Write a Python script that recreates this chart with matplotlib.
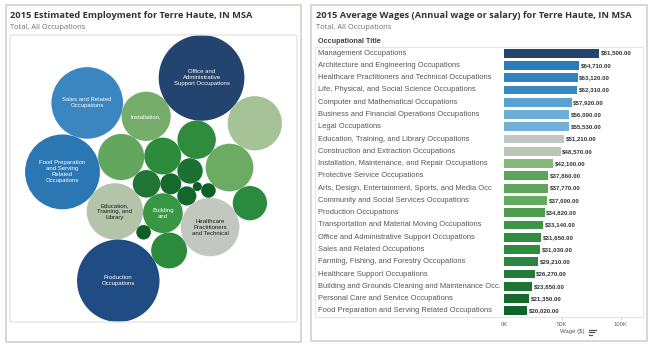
import numpy as np
import matplotlib
matplotlib.use("Agg")
import matplotlib.pyplot as plt
from matplotlib.patches import Circle, FancyBboxPatch, Rectangle
from matplotlib.colors import to_rgb
from matplotlib.transforms import blended_transform_factory

# ---------------- DATA ----------------
# Left: 2015 estimated employment (bubble size), Tableau order (alphabetical)
emp_titles = [
    "Architecture and Engineering Occupations",
    "Arts, Design, Entertainment, Sports, and Media Occupations",
    "Building and Grounds Cleaning and Maintenance Occupations",
    "Business and Financial Operations Occupations",
    "Community and Social Service Occupations",
    "Computer and Mathematical Occupations",
    "Construction and Extraction Occupations",
    "Education, Training, and Library Occupations",
    "Farming, Fishing, and Forestry Occupations",
    "Food Preparation and Serving Related Occupations",
    "Healthcare Practitioners and Technical Occupations",
    "Healthcare Support Occupations",
    "Installation, Maintenance, and Repair Occupations",
    "Legal Occupations",
    "Life, Physical, and Social Science Occupations",
    "Management Occupations",
    "Office and Administrative Support Occupations",
    "Personal Care and Service Occupations",
    "Production Occupations",
    "Protective Service Occupations",
    "Sales and Related Occupations",
    "Transportation and Material Moving Occupations",
]
employment = [600, 1030, 2150, 1850, 880, 500, 2910, 4330, 110, 7630, 4670,
              2010, 3300, 290, 290, 3100, 10000, 1750, 9260, 1600, 6980, 4010]
bubble_labels = ["", "", "Building\nand", "", "", "", "",
                 "Education,\nTraining, and\nLibrary", "",
                 "Food Preparation\nand Serving\nRelated\nOccupations",
                 "Healthcare\nPractitioners\nand Technical", "",
                 "Installation,", "", "", "",
                 "Office and\nAdministrative\nSupport Occupations", "",
                 "Production\nOccupations", "",
                 "Sales and Related\nOccupations", ""]

# Right: 2015 average annual wages
wage_titles = [
    "Management Occupations",
    "Architecture and Engineering Occupations",
    "Healthcare Practitioners and Technical Occupations",
    "Life, Physical, and Social Science Occupations",
    "Computer and Mathematical Occupations",
    "Business and Financial Operations Occupations",
    "Legal Occupations",
    "Education, Training, and Library Occupations",
    "Construction and Extraction Occupations",
    "Installation, Maintenance, and Repair Occupations",
    "Protective Service Occupations",
    "Arts, Design, Entertainment, Sports, and Media Occ",
    "Community and Social Services Occupations",
    "Production Occupations",
    "Transportation and Material Moving Occupations",
    "Office and Administrative Support Occupations",
    "Sales and Related Occupations",
    "Farming, Fishing, and Forestry Occupations",
    "Healthcare Support Occupations",
    "Building and Grounds Cleaning and Maintenance Occ.",
    "Personal Care and Service Occupations",
    "Food Preparation and Serving Related Occupations",
]
wages = [81500, 64710, 63120, 62310, 57920, 56090, 55530, 51210, 48570, 42100,
         37860, 37770, 37000, 34820, 33140, 31650, 31030, 29210, 26270, 23850,
         21350, 20020]
wage_ticks = [0, 50000, 100000]
wage_tick_labels = ["0K", "50K", "100K"]

# ---------------- STYLES ----------------
bar_colors = ["#24446f", "#2b7bba", "#3284bf", "#3888c1", "#5aa2d2", "#6eaed6",
              "#72b0d8", "#c2c6c5", "#bac5b3", "#86b87a", "#5aa35a", "#5da65c",
              "#66aa62", "#4e9d50", "#3e9548", "#2e8b3f", "#2f8c3f", "#2a8540",
              "#237b37", "#1f7433", "#15692d", "#0f6328"]
color_stops = [(100, "#0b5b24"), (600, "#16692d"), (1000, "#1d7433"),
               (1600, "#2a8a3e"), (2000, "#2e8b3c"), (2200, "#3d9a48"),
               (2800, "#5ea35a"), (3100, "#6cab62"), (3300, "#77ad6b"),
               (4000, "#a5c395"), (4330, "#b3c4a8"), (4670, "#c2c8c0"),
               (7000, "#3a85c0"), (7630, "#2b77b4"), (9260, "#1f4c82"),
               (10000, "#23446e")]

W, H = 650, 346
TITLE_C = "#333333"
SUB_C = "#6e6e6e"
BORDER_C = "#d3d1cb"

def rect(x0, y0, x1, y1):
    return [x0 / W, 1 - y1 / H, (x1 - x0) / W, (y1 - y0) / H]

def fx(x):
    return x / W

def fy(y):
    return 1 - y / H

def value_color(v):
    vs = [s[0] for s in color_stops]
    cs = np.array([to_rgb(s[1]) for s in color_stops])
    return tuple(np.interp(v, vs, cs[:, k]) for k in range(3))

# ---------------- PACKING (front-chain sibling packing) ----------------
class Node:
    def __init__(self, c):
        self.c = c
        self.next = None
        self.previous = None

def place(b, a, c):
    dx = b["x"] - a["x"]
    dy = b["y"] - a["y"]
    d2 = dx * dx + dy * dy
    if d2:
        a2 = (a["r"] + c["r"]) ** 2
        b2 = (b["r"] + c["r"]) ** 2
        if a2 > b2:
            x = (d2 + b2 - a2) / (2 * d2)
            y = np.sqrt(max(0.0, b2 / d2 - x * x))
            c["x"] = b["x"] - x * dx - y * dy
            c["y"] = b["y"] - x * dy + y * dx
        else:
            x = (d2 + a2 - b2) / (2 * d2)
            y = np.sqrt(max(0.0, a2 / d2 - x * x))
            c["x"] = a["x"] + x * dx - y * dy
            c["y"] = a["y"] + x * dy + y * dx
    else:
        c["x"] = a["x"] + c["r"]
        c["y"] = a["y"]

def intersects(a, b):
    dr = a["r"] + b["r"] - 1e-6
    dx = b["x"] - a["x"]
    dy = b["y"] - a["y"]
    return dr > 0 and dr * dr > dx * dx + dy * dy

def score(node):
    a = node.c
    b = node.next.c
    ab = a["r"] + b["r"]
    dx = (a["x"] * b["r"] + b["x"] * a["r"]) / ab
    dy = (a["y"] * b["r"] + b["y"] * a["r"]) / ab
    return dx * dx + dy * dy

def pack_siblings(radii):
    circles = [{"r": float(r), "x": 0.0, "y": 0.0} for r in radii]
    n = len(circles)
    a = circles[0]
    b = circles[1]
    # first two circles touch at the origin
    a["x"] = -a["r"]
    b["x"] = b["r"]
    b["y"] = 0.0
    c = circles[2]
    place(b, a, c)
    a, b, c = Node(a), Node(b), Node(c)
    a.next = c.previous = b
    b.next = a.previous = c
    c.next = b.previous = a
    i = 3
    while i < n:
        cc = circles[i]
        place(a.c, b.c, cc)
        cn = Node(cc)
        j, k = b.next, a.previous
        sj, sk = b.c["r"], a.c["r"]
        restart = False
        while True:
            if sj <= sk:
                if intersects(j.c, cc):
                    b = j
                    a.next = b
                    b.previous = a
                    restart = True
                    break
                sj += j.c["r"]
                j = j.next
            else:
                if intersects(k.c, cc):
                    a = k
                    a.next = b
                    b.previous = a
                    restart = True
                    break
                sk += k.c["r"]
                k = k.previous
            if j is k.next:
                break
        if restart:
            continue
        cn.previous = a
        cn.next = b
        a.next = cn
        b.previous = cn
        b = cn
        oa = score(a)
        node = cn.next
        while node is not b:
            ca = score(node)
            if ca < oa:
                a, oa = node, ca
            node = node.next
        b = a.next
        i += 1
    return np.array([[c["x"], c["y"]] for c in circles])

radii = np.sqrt(np.array(employment, dtype=float))
centers = pack_siblings(radii)

# ---------------- FIGURE ----------------
plt.rcParams["font.family"] = ["Liberation Sans", "DejaVu Sans"]
fig = plt.figure(figsize=(W / 100, H / 100), dpi=100)
fig.patch.set_facecolor("white")
renderer = fig.canvas.get_renderer()

def fit_text(x, y, s, width_px, size0, **kw):
    t = fig.text(fx(x), fy(y), s, fontsize=size0, **kw)
    bb = t.get_window_extent(renderer=renderer)
    t.set_fontsize(size0 * width_px / bb.width)
    return t

# panel borders
for (x0, y0, x1, y1) in [(6, 5, 301, 342), (311, 5, 647, 341)]:
    fig.patches.append(Rectangle((fx(x0), fy(y1)), (x1 - x0) / W, (y1 - y0) / H,
                                 transform=fig.transFigure, fill=False,
                                 edgecolor=BORDER_C, linewidth=1.2))
# left inner pane
fig.patches.append(FancyBboxPatch((fx(10), fy(322)), 287 / W, 287 / H,
                                  boxstyle="round,pad=0,rounding_size=0.004",
                                  transform=fig.transFigure, fill=False,
                                  edgecolor="#e4e4e4", linewidth=1.0))
# right table box
fig.patches.append(Rectangle((fx(315), fy(317)), (643 - 315) / W, (317 - 47) / H,
                             transform=fig.transFigure, fill=False,
                             edgecolor="#e6e6e6", linewidth=0.8))

# titles
tfont = ["Open Sans", "DejaVu Sans"]
fit_text(10, 16, "2015 Estimated Employment for Terre Haute, IN MSA", 243, 7,
         color=TITLE_C, fontweight="bold", family=tfont, va="center", ha="left")
fit_text(10, 27.5, "Total, All Occupations", 76, 6, color=SUB_C,
         family=tfont, va="center", ha="left")
fit_text(316, 16, "2015 Average Wages (Annual wage or salary) for Terre Haute, IN MSA",
         315, 7, color=TITLE_C, fontweight="bold", family=tfont, va="center", ha="left")
fit_text(316, 27.5, "Total, All Occupations", 76, 6, color=SUB_C,
         family=tfont, va="center", ha="left")

# ---------------- BUBBLES ----------------
axb = fig.add_axes(rect(10, 35, 297, 322))
axb.axis("off")
xmin = np.min(centers[:, 0] - radii)
xmax = np.max(centers[:, 0] + radii)
ymin = np.min(centers[:, 1] - radii)
ymax = np.max(centers[:, 1] + radii)
span = max(xmax - xmin, ymax - ymin)
cx, cy = (xmin + xmax) / 2, (ymin + ymax) / 2
# mirrored in x, y pointing down (screen orientation)
axb.set_xlim(cx + span / 2, cx - span / 2)
axb.set_ylim(cy + span / 2, cy - span / 2)
for (x, y), r, v, lab in zip(centers, radii, employment, bubble_labels):
    col = value_color(v)
    axb.add_patch(Circle((x, y), r, facecolor=col, edgecolor="none"))
    if lab:
        lum = 0.299 * col[0] + 0.587 * col[1] + 0.114 * col[2]
        axb.text(x, y, lab, ha="center", va="center", fontsize=4.3,
                 color="white" if lum < 0.6 else "#1a1a1a", linespacing=1.25)

# ---------------- BARS ----------------
axr = fig.add_axes(rect(504, 47, 643, 317))
n = len(wages)
ypos = np.arange(n)
axr.barh(ypos, wages, height=0.72, color=bar_colors, edgecolor="none")
axr.set_xlim(0, 119200)
axr.set_ylim(n - 0.5, -0.5)
axr.axis("off")
for yv, w in zip(ypos, wages):
    axr.text(w + 1500, yv, f"${w:,.2f}", va="center", ha="left", fontsize=4.4,
             fontweight="bold", color="#333333")
trans = blended_transform_factory(fig.transFigure, axr.transData)
for yv, t in zip(ypos, wage_titles):
    axr.text(fx(318), yv, t, transform=trans, va="center", ha="left",
             fontsize=5.4, color="#555555")
fig.text(fx(318), fy(41.5), "Occupational Title", fontsize=5.2, fontweight="bold",
         color="#444444", va="center", ha="left")
transx = blended_transform_factory(axr.transData, fig.transFigure)
for tv, tl in zip(wage_ticks, wage_tick_labels):
    axr.text(tv, fy(324.5), tl, transform=transx, ha="center", va="center",
             fontsize=4.2, color="#666666")
    if tv > 0:
        axr.plot([tv, tv], [fy(317), fy(320)], transform=transx, color="#cccccc",
                 lw=0.6, clip_on=False)
fig.text(fx(572.5), fy(332), "Wage ($)", fontsize=4.3, color="#555555",
         ha="center", va="center")
for ln, yy in [(7, 329.5), (5, 332.2), (3, 334.9)]:
    fig.lines.append(plt.Line2D([fx(589), fx(589 + ln)], [fy(yy), fy(yy)],
                                transform=fig.transFigure, color="#555555", lw=0.9))

fig.savefig("out.png", dpi=100, facecolor="white")
